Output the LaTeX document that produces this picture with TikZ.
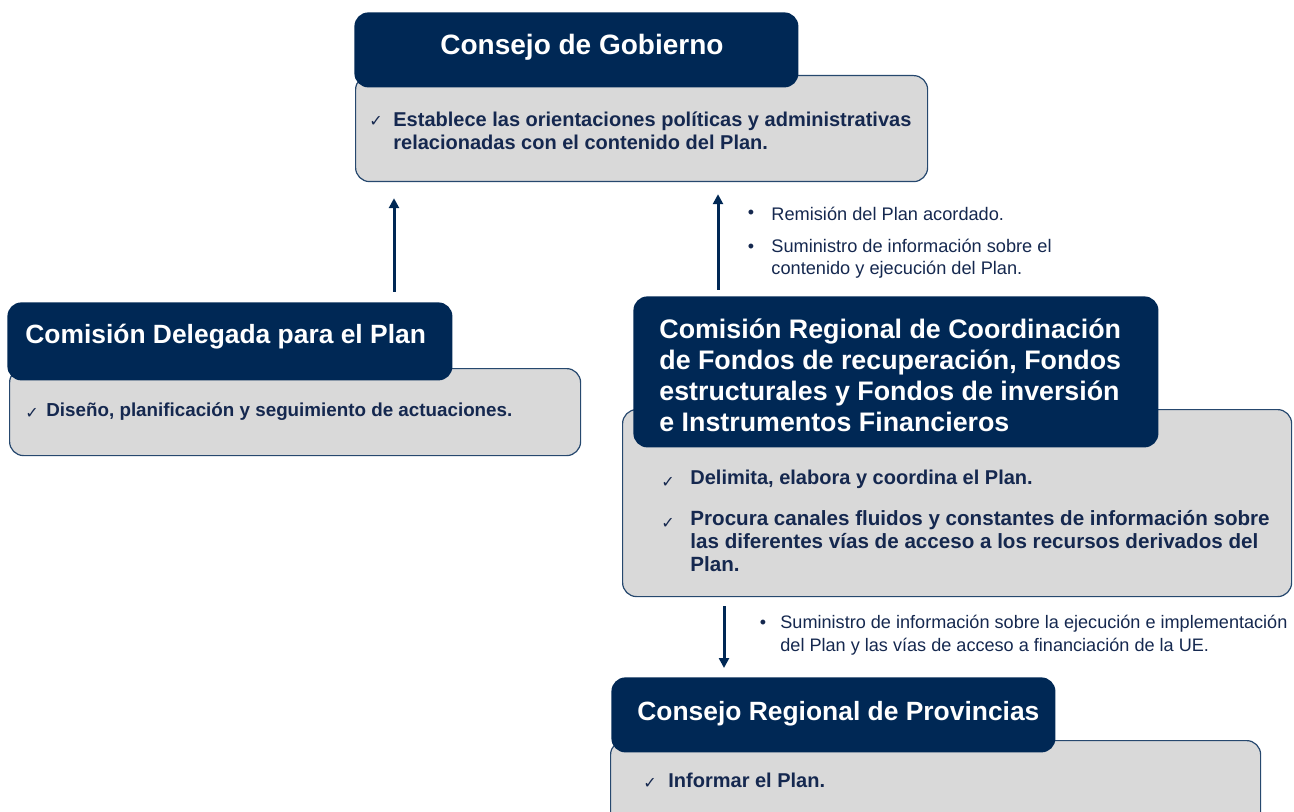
\documentclass[tikz,border=0pt]{standalone}
\usepackage{fontspec}
\setmainfont{Liberation Sans}
\newfontfamily\symfont{DejaVu Sans}
\usetikzlibrary{positioning,arrows.meta}
\definecolor{navy}{HTML}{002855}
\definecolor{boxgray}{HTML}{D9D9D9}
\definecolor{txtblue}{HTML}{15284F}
\tikzset{
  titlebox/.style={fill=navy, rounded corners=7pt, anchor=north west, inner sep=0pt},
  graybox/.style={fill=boxgray, draw=navy!85, line width=0.6pt, rounded corners=7pt, anchor=north west, inner sep=0pt},
  titletext/.style={text=white, font=\fontsize{13.4}{15.5}\selectfont\bfseries, anchor=west, inner sep=0pt, align=left},
  itemtext/.style={text=txtblue, font=\fontsize{10}{11.5}\selectfont\bfseries, anchor=west, inner sep=0pt, align=left},
  notetext/.style={text=txtblue, font=\fontsize{9.1}{11}\selectfont, anchor=west, inner sep=0pt, align=left},
  tick/.style={text=txtblue, font=\symfont\fontsize{8}{9}\selectfont, inner sep=0pt},
  dot/.style={text=txtblue, font=\fontsize{9}{11}\selectfont, inner sep=0pt},
  flow/.style={-{Triangle[length=5pt,width=5pt]}, line width=1.5pt, draw=navy}
}
\begin{document}
\begin{tikzpicture}[x=0.5pt,y=-0.5pt]
    \clip (0,0) rectangle (1294,812);

    % Consejo de Gobierno
    \node[graybox, minimum width=286pt, minimum height=53pt] (gobbox) at (355,75) {};
    \node[titlebox, minimum width=222pt, minimum height=37.5pt] (gobtitle) at (354,12) {};
    \node[titletext, font=\fontsize{14}{16}\selectfont\bfseries] (gobname) at (440,47) {Consejo de Gobierno};
    \node[tick] (gobtick) at (376,121) {✓};
    \node[itemtext] (gobitem) at (393,131) {Establece las orientaciones políticas y administrativas\\relacionadas con el contenido del Plan.};

    % Comision Delegada
    \node[graybox, minimum width=285.5pt, minimum height=43.5pt] (delegbox) at (9,368) {};
    \node[titlebox, minimum width=222.5pt, minimum height=39pt] (delegtitle) at (7,302) {};
    \node[titletext, font=\fontsize{13.2}{15.5}\selectfont\bfseries] (delegname) at (25,337) {Comisión Delegada para el Plan};
    \node[tick] (delegtick) at (32,413) {✓};
    \node[itemtext, font=\fontsize{9.4}{11.5}\selectfont\bfseries] (delegitem) at (46,412) {Diseño, planificación y seguimiento de actuaciones.};

    % Comision Regional
    \node[graybox, minimum width=334.5pt, minimum height=93.5pt] (regbox) at (622,409) {};
    \node[titlebox, minimum width=262.5pt, minimum height=75.5pt] (regtitle) at (633,296) {};
    \node[titletext] (regname) at (659,375) {Comisión Regional de Coordinación\\de Fondos de recuperación, Fondos\\estructurales y Fondos de inversión\\e Instrumentos Financieros};
    \node[tick] (regtickA) at (668,482) {✓};
    \node[itemtext] (regitemA) at (690,479) {Delimita, elabora y coordina el Plan.};
    \node[tick] (regtickB) at (668,523) {✓};
    \node[itemtext, font=\fontsize{10.3}{11.5}\selectfont\bfseries] (regitemB) at (690,541) {Procura canales fluidos y constantes de información sobre\\las diferentes vías de acceso a los recursos derivados del\\Plan.};

    % Consejo Regional de Provincias
    \node[graybox, minimum width=325pt, minimum height=50pt] (provbox) at (610,740) {};
    \node[titlebox, minimum width=222pt, minimum height=37.5pt] (provtitle) at (611,677) {};
    \node[titletext, font=\fontsize{13.2}{15.5}\selectfont\bfseries] (provname) at (637,714) {Consejo Regional de Provincias};
    \node[tick] (provtick) at (650,783) {✓};
    \node[itemtext] (provitem) at (668,780) {Informar el Plan.};

    % notes next to the arrows
    \node[dot] (dotA) at (751,214) {•};
    \node[notetext] (noteA) at (771,214) {Remisión del Plan acordado.};
    \node[dot] (dotB) at (751,248) {•};
    \node[notetext] (noteB) at (771,259) {Suministro de información sobre el\\contenido y ejecución del Plan.};
    \node[dot] (dotC) at (763,624) {•};
    \node[notetext, font=\fontsize{9.05}{11.5}\selectfont] (noteC) at (780,635.5) {Suministro de información sobre la ejecución e implementación\\del Plan y las vías de acceso a financiación de la UE.};

    % arrows
    \coordinate (leftx) at (394,0);
    \coordinate (upx) at (718,0);
    \coordinate (downx) at (724,0);
    \draw[flow, shorten <=5pt, shorten >=8pt] (delegtitle.north -| leftx) -- (gobbox.south -| leftx);
    \draw[flow, shorten <=3pt, shorten >=6pt] (regtitle.north -| upx) -- (gobbox.south -| upx);
    \draw[flow, shorten <=4.5pt, shorten >=4.5pt] (regbox.south -| downx) -- (provtitle.north -| downx);
\end{tikzpicture}
\end{document}
